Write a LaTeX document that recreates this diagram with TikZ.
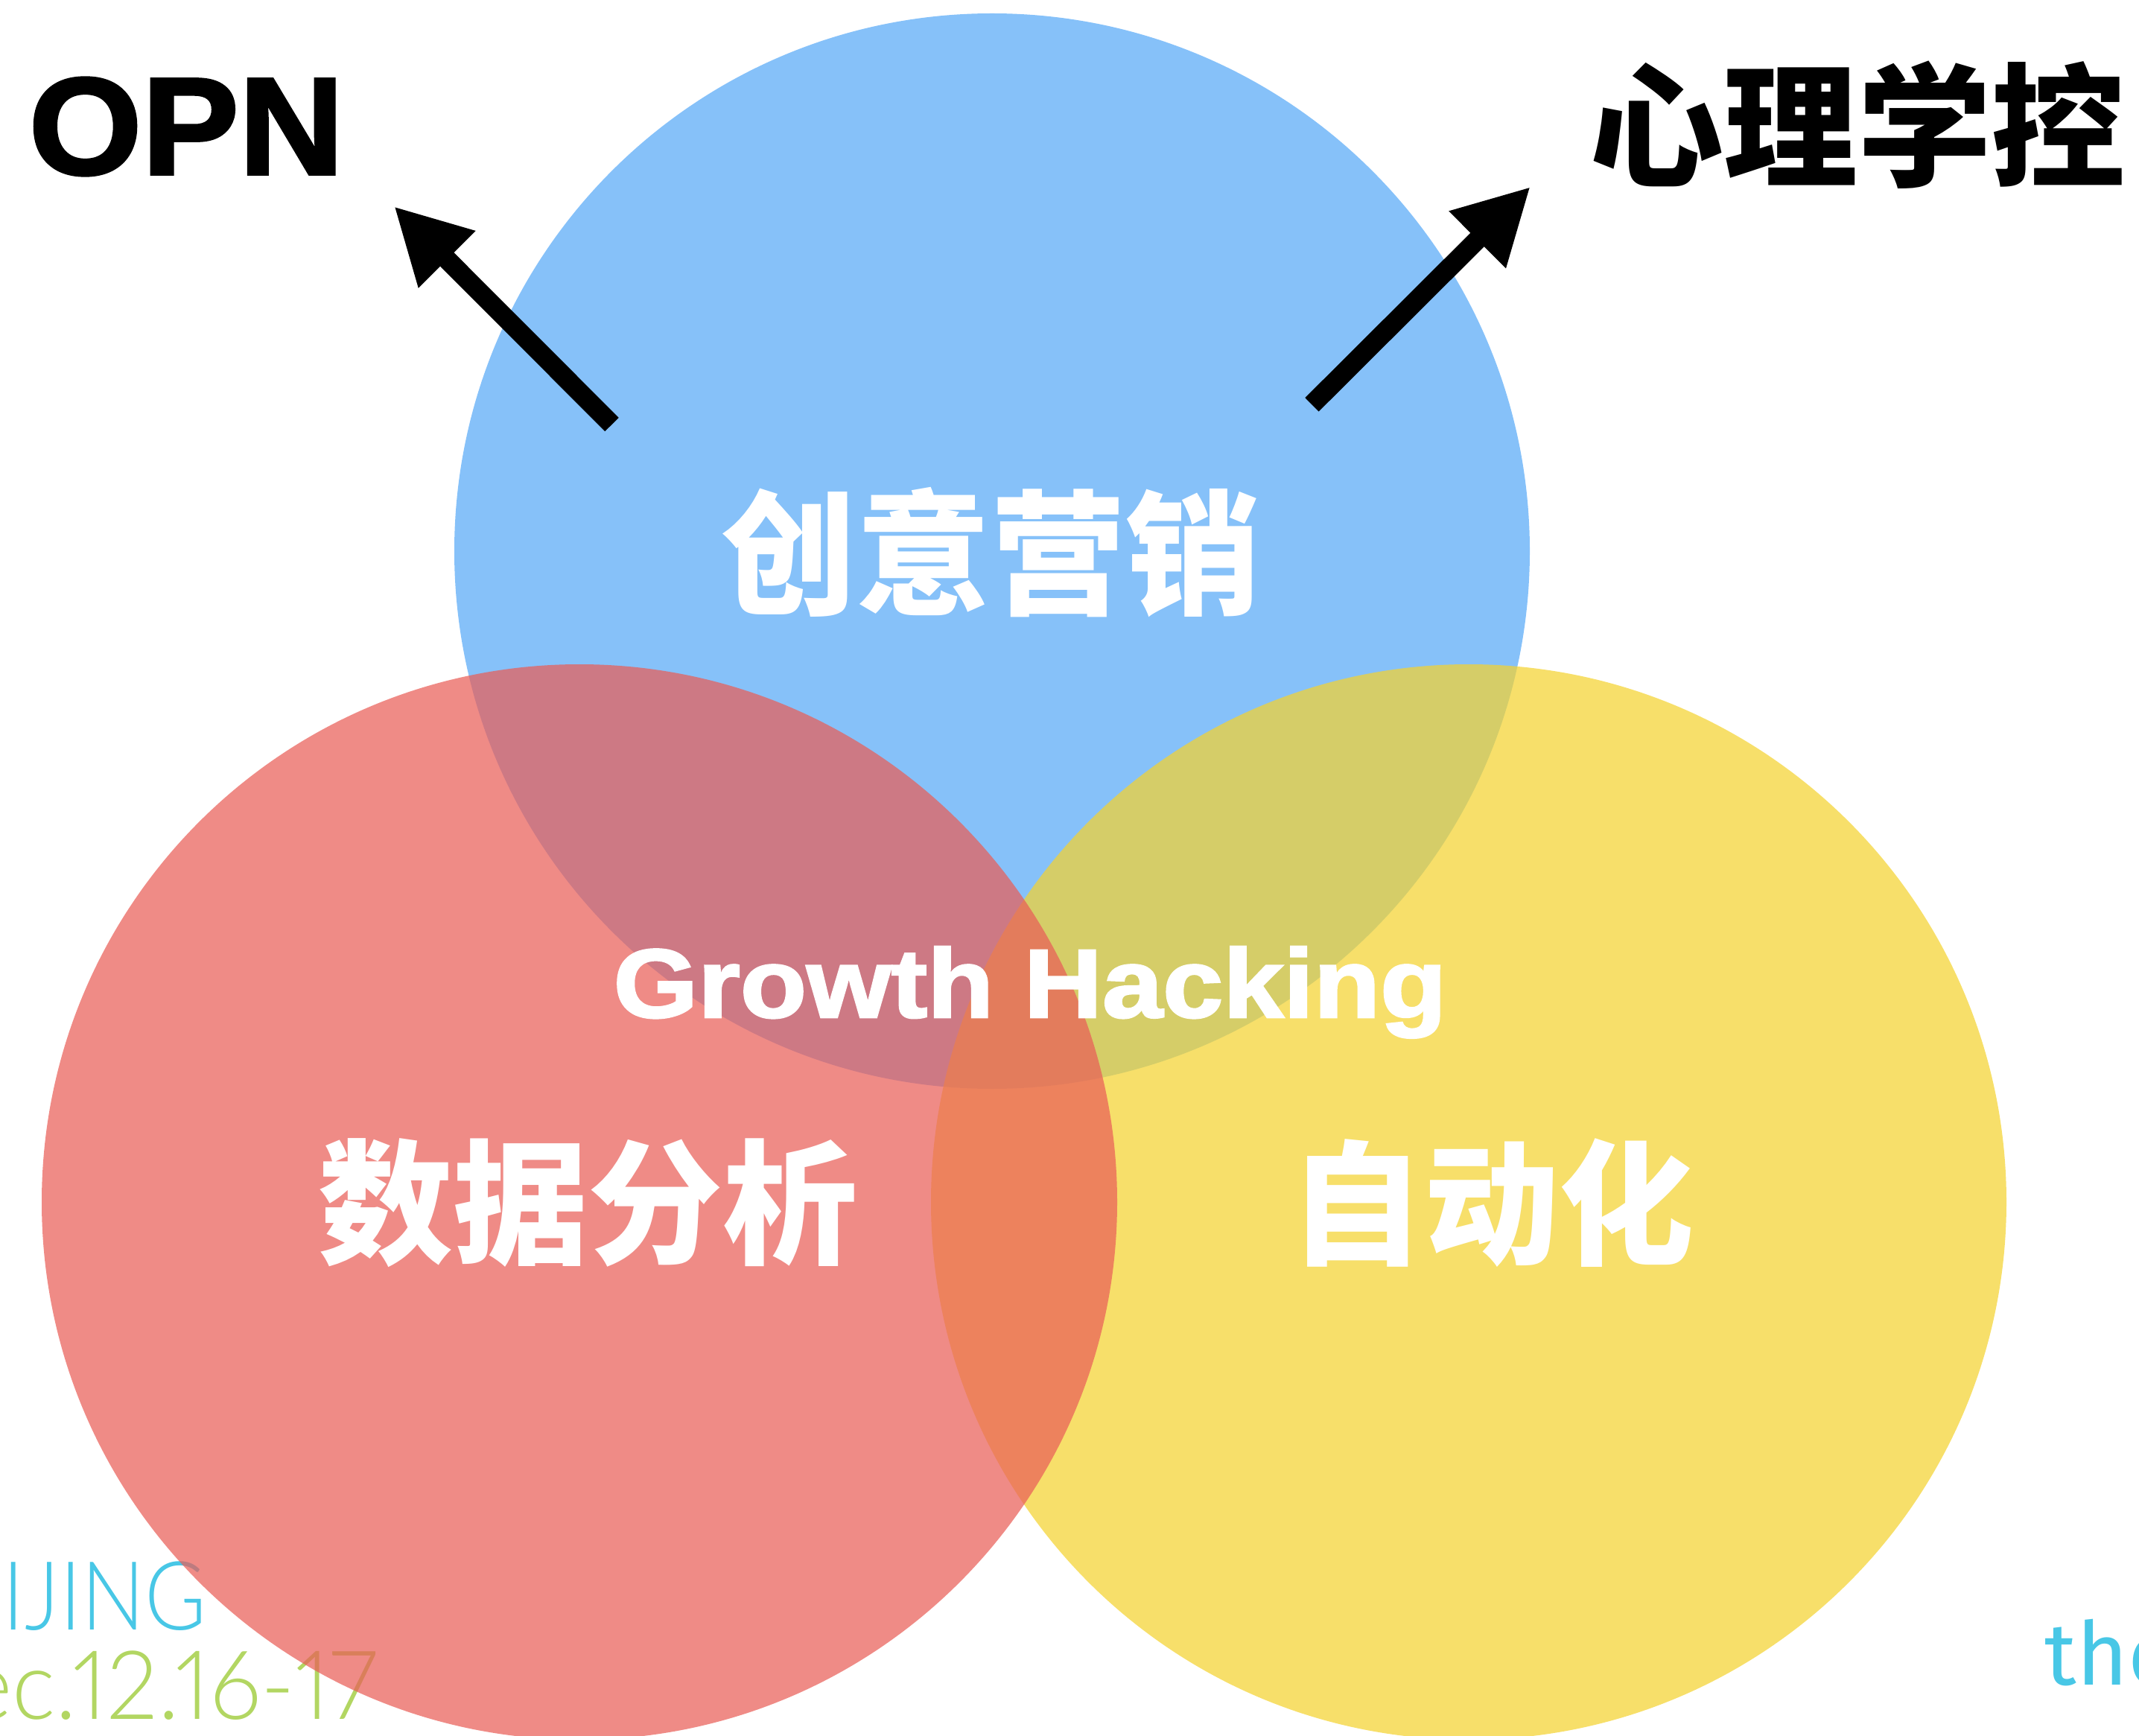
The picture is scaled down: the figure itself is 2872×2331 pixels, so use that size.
\documentclass[tikz,border=0pt]{standalone}
\usepackage{fontspec}
\setmainfont{Liberation Sans}[BoldFeatures={FakeBold=2}]
\newfontfamily\cjkfont{Noto Sans CJK SC}
\newfontfamily\firafont{Fira Sans}
\IfFontExistsTF{Lato Light}{\newfontfamily\thinfont{Lato Light}[Numbers=Proportional]}{\newfontfamily\thinfont{Fira Sans}}
\usetikzlibrary{arrows.meta}
\definecolor{vennblue}{RGB}{134,193,249}
\definecolor{vennred}{RGB}{233,94,88}
\definecolor{vennyellow}{RGB}{244,211,49}
\definecolor{citycyan}{RGB}{72,199,230}
\definecolor{dategreen}{RGB}{178,214,98}
\tikzset{
	bigword/.style={text=white, inner sep=0, font=\cjkfont\bfseries\fontsize{51.5}{52}\selectfont},
	sideword/.style={text=black, inner sep=0},
	footer/.style={inner sep=0, font=\thinfont\fontsize{36.5}{37}\selectfont},
	pointer/.style={line width=7.4pt, -{Triangle[length=28.7pt, width=28.7pt]}},
}

\begin{document}
\begin{tikzpicture}[x=0.1mm, y=-0.1mm]
	\useasboundingbox (0,0) rectangle (2872,2331);
	% footer of the slide, lies under the circles
	\node[footer, anchor=base west, text=citycyan] (city) at (3,2188) {\scalebox{0.88}[1]{IJING}};
	\node[footer, anchor=base east, text=dategreen] (date) at (507,2308) {\scalebox{0.96}[1]{Dec.12.16-17}};
	\node[inner sep=0, anchor=base west, text=citycyan, font=\firafont\fontsize{33.6}{34}\selectfont] (site) at (2745,2262) {the};
	% the three circles
	\fill[vennblue] (1332,740) circle (722);
	\fill[vennyellow, fill opacity=0.72] (1972,1614) circle (722);
	\fill[vennred, fill opacity=0.72] (778,1614) circle (722);
	% labels
	\node[bigword] (creative) at (1330,742) {创意营销};
	\node[bigword] (data) at (789,1615) {数据分析};
	\node[bigword] (auto) at (2003,1615) {自动化};
	\node[text=white, inner sep=0, anchor=base, font=\bfseries\fontsize{37.3}{38}\selectfont] (growth) at (1383,1366) {\scalebox{1.113}[1]{Growth Hacking}};
	\node[sideword, anchor=base west, font=\bfseries\fontsize{52.9}{53}\selectfont] (opn) at (38,234) {\scalebox{1.05}[1]{OPN}};
	\node[sideword, font=\cjkfont\bfseries\fontsize{51.2}{52}\selectfont] (psych) at (2494,168) {心理学控};
	% arrows out of the top circle
	\coordinate (opntail) at (821.5,570);
	\coordinate (opntip) at (529,277);
	\coordinate (psytail) at (1761.5,543.3);
	\coordinate (psytip) at (2055,250.7);
	\draw[pointer] (opntail) -- (opntip);
	\draw[pointer] (psytail) -- (psytip);
\end{tikzpicture}
\end{document}
